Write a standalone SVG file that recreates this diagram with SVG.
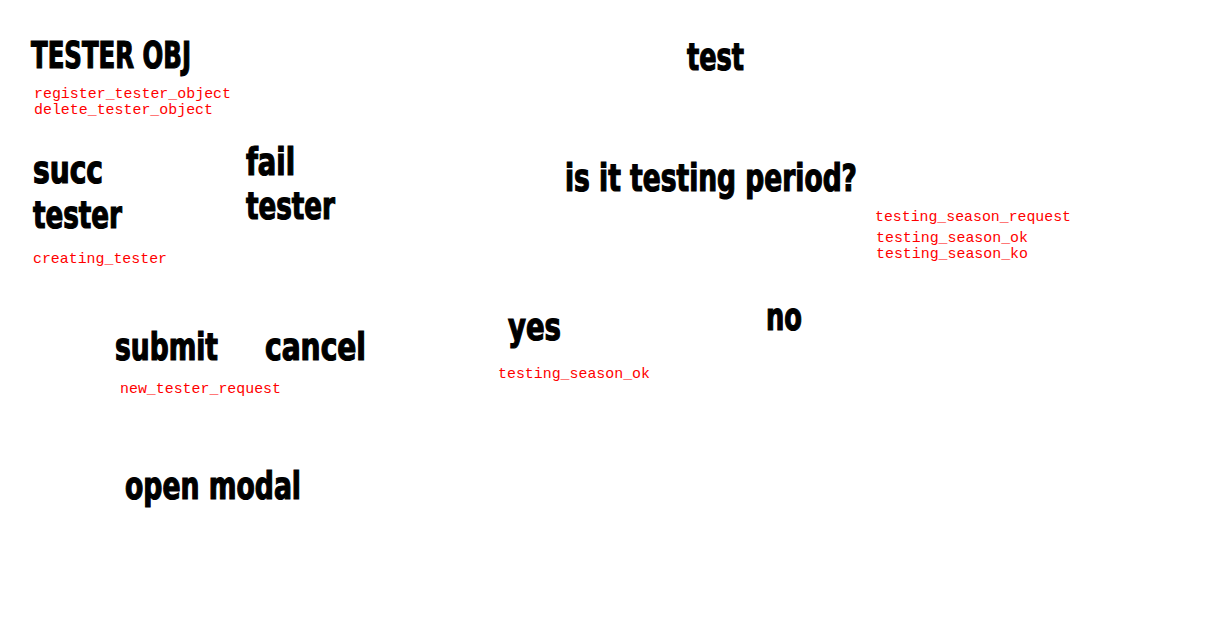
<svg xmlns="http://www.w3.org/2000/svg" width="1215" height="630" viewBox="0 0 1215 630">
<style>
.h{font-family:"Liberation Sans Narrow","DejaVu Sans Condensed","Liberation Sans",sans-serif;font-weight:bold;font-size:37px;fill:#000;stroke:#000;stroke-width:1.2px}
.c{font-family:"Liberation Mono","Courier New",monospace;font-size:14.8px;fill:#ff0000}
</style>
<rect width="1215" height="630" fill="#fff"/>
<g id="tester-obj">
<text class="h" x="31" y="68" textLength="160" lengthAdjust="spacingAndGlyphs">TESTER OBJ</text>
<text class="c" x="34" y="98" textLength="197" lengthAdjust="spacingAndGlyphs">register_tester_object</text>
<text class="c" x="34" y="114" textLength="179" lengthAdjust="spacingAndGlyphs">delete_tester_object</text>
</g>
<g id="test">
<text class="h" x="687" y="70" textLength="57" lengthAdjust="spacingAndGlyphs">test</text>
</g>
<g id="succ-tester">
<text class="h" x="33" y="183" textLength="70" lengthAdjust="spacingAndGlyphs">succ</text>
<text class="h" x="33" y="228" textLength="89" lengthAdjust="spacingAndGlyphs">tester</text>
<text class="c" x="33" y="263" textLength="134" lengthAdjust="spacingAndGlyphs">creating_tester</text>
</g>
<g id="fail-tester">
<text class="h" x="246" y="175" textLength="49" lengthAdjust="spacingAndGlyphs">fail</text>
<text class="h" x="246" y="219" textLength="89" lengthAdjust="spacingAndGlyphs">tester</text>
</g>
<g id="testing-period">
<text class="h" x="565" y="191" textLength="292" lengthAdjust="spacingAndGlyphs">is it testing period?</text>
<text class="c" x="875" y="221" textLength="196" lengthAdjust="spacingAndGlyphs">testing_season_request</text>
<text class="c" x="876" y="242" textLength="152" lengthAdjust="spacingAndGlyphs">testing_season_ok</text>
<text class="c" x="876" y="258" textLength="152" lengthAdjust="spacingAndGlyphs">testing_season_ko</text>
</g>
<g id="submit">
<text class="h" x="115" y="360" textLength="103" lengthAdjust="spacingAndGlyphs">submit</text>
<text class="c" x="120" y="393" textLength="161" lengthAdjust="spacingAndGlyphs">new_tester_request</text>
</g>
<g id="cancel">
<text class="h" x="265" y="360" textLength="101" lengthAdjust="spacingAndGlyphs">cancel</text>
</g>
<g id="yes">
<text class="h" x="508" y="340" textLength="53" lengthAdjust="spacingAndGlyphs">yes</text>
<text class="c" x="498" y="378" textLength="152" lengthAdjust="spacingAndGlyphs">testing_season_ok</text>
</g>
<g id="no">
<text class="h" x="766" y="330" textLength="36" lengthAdjust="spacingAndGlyphs">no</text>
</g>
<g id="open-modal">
<text class="h" x="125" y="499" textLength="176" lengthAdjust="spacingAndGlyphs">open modal</text>
</g>
<g id="connectors"/>
</svg>
